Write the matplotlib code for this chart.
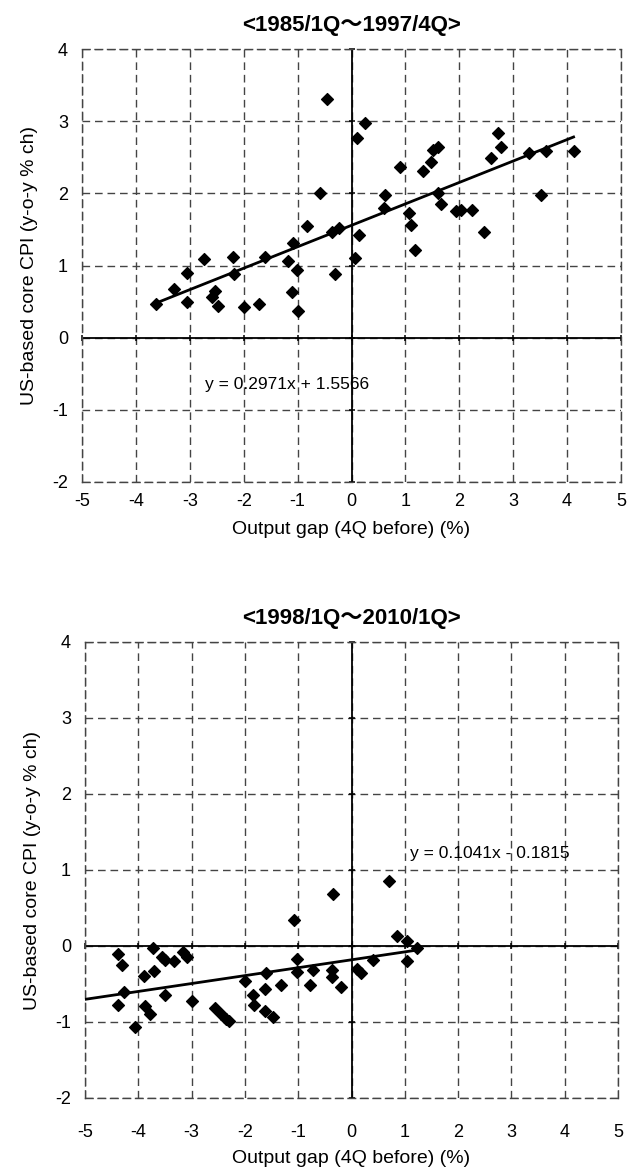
import matplotlib.pyplot as plt
import numpy as np

plt.rcParams['font.family'] = ['Liberation Sans', 'Noto Sans CJK JP', 'DejaVu Sans']
plt.rcParams['axes.unicode_minus'] = False

# 1985/1Q - 1997/4Q
gap1 = [-0.45, -0.58, -0.82, -0.36, -0.23, -1.09, -1.17, -1.01, -0.30, -1.10,
        -1.00, -1.60, -2.20, -2.18, -2.74, -3.06, -3.29, -3.06, -3.63, -2.54,
        -2.59, -2.47, -2.00, -1.71,
        0.25, 0.11, 0.90, 1.32, 1.48, 1.51, 1.61, 0.62, 0.61, 1.60,
        1.66, 1.07, 1.11, 1.17, 1.93, 2.03, 2.24, 2.45, 2.59, 2.72,
        2.77, 3.30, 3.60, 3.51, 4.12, 0.14, 0.07]
cpi1 = [3.31, 2.00, 1.55, 1.46, 1.52, 1.31, 1.06, 0.94, 0.88, 0.63,
        0.37, 1.12, 1.12, 0.88, 1.09, 0.89, 0.68, 0.49, 0.46, 0.64,
        0.56, 0.44, 0.43, 0.46,
        2.97, 2.77, 2.36, 2.31, 2.43, 2.60, 2.64, 1.97, 1.79, 2.01,
        1.85, 1.73, 1.56, 1.22, 1.76, 1.77, 1.77, 1.47, 2.49, 2.84,
        2.64, 2.56, 2.58, 1.98, 2.58, 1.42, 1.10]
slope1, icpt1 = 0.2971, 1.5566
eq1 = "y = 0.2971x + 1.5566"
title1 = "<1985/1Q～1997/4Q>"

# 1998/1Q - 2010/1Q
gap2 = [-4.38, -4.31, -3.72, -3.55, -3.50, -3.33, -3.17, -3.09, -3.89, -3.70,
        -4.26, -3.50, -4.38, -3.87, -3.00, -2.57, -2.45, -2.35, -2.30, -4.07,
        -3.78, -2.00, -1.85, -1.83, -1.63, -1.63, -1.47, -1.33, -0.77, -0.20,
        -0.35, -1.08, -1.02, -1.60, -1.02, -0.73, -0.37, -0.37, 0.10, 0.18,
        0.40, 0.70, 0.86, 1.04, 1.23, 1.05]
cpi2 = [-0.11, -0.25, -0.03, -0.14, -0.19, -0.20, -0.08, -0.14, -0.40, -0.33,
        -0.60, -0.64, -0.78, -0.79, -0.73, -0.82, -0.90, -0.96, -0.99, -1.07,
        -0.90, -0.46, -0.64, -0.78, -0.56, -0.85, -0.94, -0.51, -0.51, -0.54,
        0.68, 0.34, -0.17, -0.35, -0.34, -0.31, -0.31, -0.41, -0.30, -0.36,
        -0.18, 0.85, 0.13, 0.07, -0.03, -0.20]
slope2, icpt2 = 0.1041, -0.1815
eq2 = "y = 0.1041x - 0.1815"
title2 = "<1998/1Q～2010/1Q>"

xlab = "Output gap (4Q before) (%)"
ylab = "US-based core CPI (y-o-y % ch)"
xt = np.arange(-5, 6)
yt = np.arange(-2, 5)

W, H = 627, 1171
fig = plt.figure(figsize=(W / 100, H / 100), dpi=100)
ax1 = fig.add_axes([82 / W, 1 - 482 / H, 539 / W, 433 / H])
ax2 = fig.add_axes([85 / W, 1 - 1098 / H, 533 / W, 456 / H])

dash = (0, (5.5, 3.5))


def style(ax, xpad, lpad):
    ax.set_xlim(-5, 5)
    ax.set_ylim(-2, 4)
    ax.set_xticks(xt)
    ax.set_yticks(yt)
    ax.grid(True, color='#444444', linestyle=dash, linewidth=1)
    for s in ax.spines.values():
        s.set_linestyle(dash)
        s.set_color('#444444')
        s.set_linewidth(1)
    # axes crossing at zero, with small cross tick marks
    ax.axhline(0, color='black', lw=1.3, zorder=2)
    ax.axvline(0, color='black', lw=1.3, zorder=2)
    ax.plot(xt, np.zeros(len(xt)), ls='none', marker='|', ms=5, mew=1.1,
            color='black', zorder=2, clip_on=False)
    ax.plot(np.zeros(len(yt)), yt, ls='none', marker='_', ms=5, mew=1.1,
            color='black', zorder=2, clip_on=False)
    ax.tick_params(axis='y', length=0, pad=10, labelsize=13)
    ax.tick_params(axis='x', length=0, pad=xpad, labelsize=13)
    ax.set_xlabel(xlab, fontsize=14, labelpad=lpad)
    ax.set_ylabel(ylab, fontsize=14, labelpad=10)


for ax, gx, cy, sl, ic, eq, ttl, x0, txy, xpad, lpad in [
        (ax1, gap1, cpi1, slope1, icpt1, eq1, title1, min(gap1), (-1.2, -0.65), 8, 8),
        (ax2, gap2, cpi2, slope2, icpt2, eq2, title2, -5, (2.6, 1.22), 19, 6)]:
    style(ax, xpad, lpad)
    ax.scatter(gx, cy, marker='D', s=36, color='black', zorder=4)
    xs = np.array([x0, max(gx)])
    ax.plot(xs, sl * xs + ic, color='black', lw=2, zorder=3)
    ax.text(txy[0], txy[1], eq, fontsize=12.5, ha='center', va='center', zorder=5)
    ax.set_title(ttl, fontsize=16, fontweight='bold', pad=13)

fig.savefig('out.png', dpi=100)
